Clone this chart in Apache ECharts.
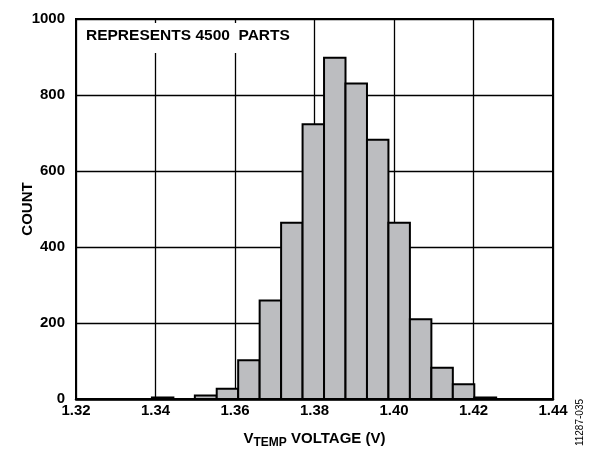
<!DOCTYPE html>
<html>
<head>
<meta charset="utf-8">
<script src="https://cdn.jsdelivr.net/npm/echarts@6/dist/echarts.min.js"></script>
<style>
html,body{margin:0;padding:0;background:#fff;}
#chart{width:600px;height:452px;}
</style>
</head>
<body>
<div id="chart"></div>
<script>
// Histogram bin edges (V) and counts
const binEdges = [1.3391, 1.3445, 1.3499, 1.3554, 1.3608, 1.3662, 1.3716, 1.3770, 1.3824,
                  1.3878, 1.3932, 1.3986, 1.4040, 1.4094, 1.4148, 1.4202, 1.4257];
const counts = [4, 0, 9, 27, 102, 259, 464, 723, 898, 830, 682, 464, 210, 82, 39, 4];
const xTicks = { min: 1.32, max: 1.44, interval: 0.02 };
const yTicks = { min: 0, max: 1000, interval: 200 };
const annotation = 'REPRESENTS 4500  PARTS';
const figureId = '11287-035';

const data = counts.map((c, i) => [binEdges[i], binEdges[i + 1], c]);
const FONT = '"Liberation Sans", Arial, Helvetica, sans-serif';

const chart = echarts.init(document.getElementById('chart'));
chart.setOption({
  animation: false,
  backgroundColor: '#fff',
  grid: { left: 76, right: 47, top: 19, bottom: 53, containLabel: false, outerBoundsMode: 'none',
    show: true, borderColor: '#000', borderWidth: 2, z: 5 },
  xAxis: {
    type: 'value', min: xTicks.min, max: xTicks.max, interval: xTicks.interval,
    axisLine: { show: true, lineStyle: { color: '#000', width: 2.5 } },
    axisTick: { show: false },
    splitLine: { show: true, lineStyle: { color: '#000', width: 1.3 } },
    axisLabel: { color: '#000', fontFamily: FONT, fontWeight: 'bold', fontSize: 15, margin: 4,
      formatter: v => v.toFixed(2) },
    name: '{v|V}{sub|TEMP}{v| VOLTAGE (V)}',
    nameLocation: 'middle', nameGap: 30, nameMoveOverlap: false,
    nameTextStyle: {
      rich: {
        v: { fontFamily: FONT, fontWeight: 'bold', fontSize: 15, color: '#000', lineHeight: 20 },
        sub: { fontFamily: FONT, fontWeight: 'bold', fontSize: 12, color: '#000', lineHeight: 13, verticalAlign: 'bottom' }
      }
    }
  },
  yAxis: {
    type: 'value', min: yTicks.min, max: yTicks.max, interval: yTicks.interval,
    axisLine: { show: true, lineStyle: { color: '#000', width: 2 } },
    axisTick: { show: false },
    splitLine: { show: true, lineStyle: { color: '#000', width: 1.3 } },
    axisLabel: { color: '#000', fontFamily: FONT, fontWeight: 'bold', fontSize: 15, margin: 11,
      formatter: v => String(v) },
    name: 'COUNT', nameLocation: 'middle', nameGap: 41, nameMoveOverlap: false,
    nameTextStyle: { color: '#000', fontFamily: FONT, fontWeight: 'bold', fontSize: 15 }
  },
  series: [{
    type: 'custom',
    encode: { x: [0, 1], y: 2 },
    data: data,
    z: 3,
    renderItem: function (params, api) {
      const c = api.value(2);
      if (!c) return null;
      const p0 = api.coord([api.value(0), c]);
      const p1 = api.coord([api.value(1), 0]);
      return {
        type: 'rect',
        shape: { x: p0[0], y: p0[1], width: p1[0] - p0[0], height: p1[1] - p0[1] },
        style: { fill: '#bcbdc0', stroke: '#000', lineWidth: 2 }
      };
    }
  }],
  graphic: [
    { type: 'text', left: 79, top: 23, z: 100,
      style: { text: annotation, font: 'bold 15.5px ' + FONT, fill: '#000',
        backgroundColor: '#fff', padding: [5, 14, 9, 7] } },
    { type: 'text', left: 575, top: 399, rotation: Math.PI / 2, z: 100,
      style: { text: figureId, font: '10px ' + FONT, fill: '#000' } }
  ]
});
</script>
</body>
</html>
